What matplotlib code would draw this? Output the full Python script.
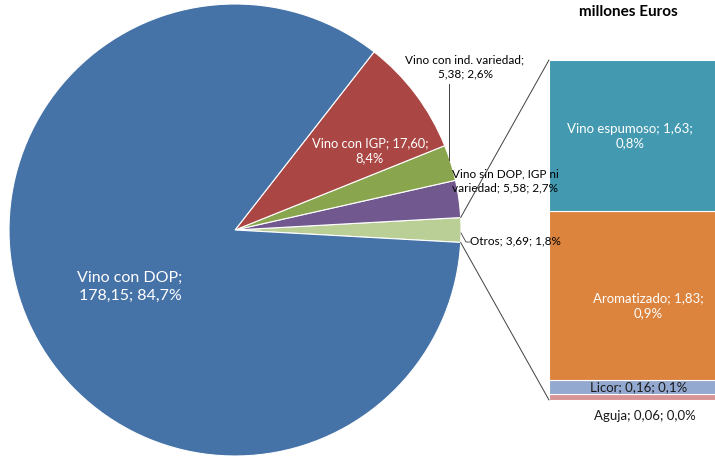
import matplotlib
matplotlib.use('Agg')
import matplotlib.pyplot as plt
from matplotlib.patches import ConnectionPatch
import numpy as np

plt.rcParams['font.family'] = ['Lato', 'DejaVu Sans']

# pie data (millones Euros)
pie_names = ['Otros', 'Vino sin DOP, IGP ni variedad', 'Vino con ind. variedad',
             'Vino con IGP', 'Vino con DOP']
pie_values = [3.69, 5.58, 5.38, 17.60, 178.15]
pie_colors = ['#BACF96', '#71598F', '#89A54E', '#AA4744', '#4572A7']

# breakdown of "Otros" (bottom to top of the bar)
bar_names = ['Aguja', 'Licor', 'Aromatizado', 'Vino espumoso']
bar_values = [0.06, 0.16, 1.83, 1.63]
bar_colors = ['#D69594', '#93A9D0', '#DC843E', '#4299B0']

title = 'millones Euros'


def fmt(v, total):
    pct = v / total * 100
    return f'{v:.2f}'.replace('.', ','), f'{pct:.1f}%'.replace('.', ',')


W, H = 715, 461
fig = plt.figure(figsize=(W / 100, H / 100), dpi=100)
total = sum(pie_values)

# pie axes, centred at (235, 230) px, radius 226 px
cx, cy, r = 235, 230, 226
ax = fig.add_axes([(cx - r) / W, (H - cy - r) / H, 2 * r / W, 2 * r / H])
start = -pie_values[0] / total * 360 / 2
wedges, _ = ax.pie(pie_values, colors=pie_colors, startangle=start, radius=1,
                   wedgeprops=dict(edgecolor='white', linewidth=0.8))
ax.set_xlim(-1, 1)
ax.set_ylim(-1, 1)
ax.set_axis_off()

# bar of the "Otros" slice
bx = fig.add_axes([549 / W, (H - 400) / H, (740 - 549) / W, 340 / H])
bottoms = np.concatenate([[0], np.cumsum(bar_values)[:-1]])
bx.bar([0.5] * len(bar_values), bar_values, width=1, bottom=bottoms,
       color=bar_colors, edgecolor='white', linewidth=0.8)
bx.set_xlim(0, 1)
bx.set_ylim(0, sum(bar_values))
bx.set_axis_off()

# connector lines from the Otros wedge to the bar
t1 = np.deg2rad(wedges[0].theta1)
t2 = np.deg2rad(wedges[0].theta2)
for t, yb in [(t2, 1), (t1, 0)]:
    con = ConnectionPatch(xyA=(np.cos(t), np.sin(t)), coordsA=ax.transData,
                          xyB=(0, yb), coordsB=bx.transAxes,
                          color='#404040', linewidth=0.7)
    fig.add_artist(con)

# overlay axes in pixel coordinates for labels
ov = fig.add_axes([0, 0, 1, 1])
ov.set_xlim(0, W)
ov.set_ylim(H, 0)
ov.set_axis_off()

v, p = fmt(pie_values[4], total)
ov.text(130, 287, f'{pie_names[4]};\n{v}; {p}', color='white', fontsize=11.5,
        ha='center', va='center', linespacing=1.3)
v, p = fmt(pie_values[3], total)
ov.text(370, 151, f'{pie_names[3]}; {v};\n{p}', color='white', fontsize=9.3,
        ha='center', va='center', linespacing=1.3)
v, p = fmt(pie_values[2], total)
ov.text(465, 67, f'{pie_names[2]};\n{v}; {p}', color='black', fontsize=8.5,
        ha='center', va='center', linespacing=1.35)
ov.plot([449, 449], [84, 160], color='#404040', linewidth=0.7)
v, p = fmt(pie_values[1], total)
ov.text(452, 181, f'Vino sin DOP, IGP ni\nvariedad; {v}; {p}', color='black',
        fontsize=8.5, ha='left', va='center', linespacing=1.3)
v, p = fmt(pie_values[0], total)
ov.text(470, 241, f'{pie_names[0]}; {v}; {p}', color='black', fontsize=8.5,
        ha='left', va='center')
ov.plot([461, 466, 470], [233, 242, 242], color='#404040', linewidth=0.6)

v, p = fmt(bar_values[3], total)
ov.text(630, 136, f'{bar_names[3]}; {v};\n{p}', color='white', fontsize=9.5,
        ha='center', va='center', linespacing=1.3)
v, p = fmt(bar_values[2], total)
ov.text(648, 306, f'{bar_names[2]}; {v};\n{p}', color='white', fontsize=9.5,
        ha='center', va='center', linespacing=1.3)
v, p = fmt(bar_values[1], total)
ov.text(639, 387, f'{bar_names[1]}; {v}; {p}', color='#1a1a1a', fontsize=9.5,
        ha='center', va='center')
v, p = fmt(bar_values[0], total)
ov.text(645, 416, f'{bar_names[0]}; {v}; {p}', color='#1a1a1a', fontsize=9.5,
        ha='center', va='center')

ov.text(628, 12, title, fontsize=11, fontweight='bold', ha='center', va='center')

fig.savefig('out.png', dpi=100)
